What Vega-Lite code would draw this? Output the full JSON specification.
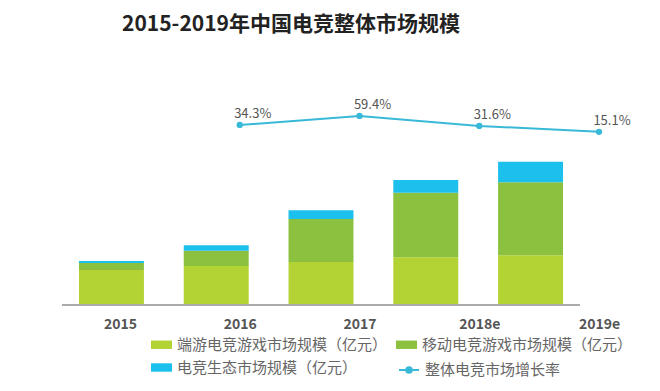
{
  "$schema": "https://vega.github.io/schema/vega-lite/v6.json",
  "width": 518,
  "height": 235,
  "autosize": {"type": "none"},
  "padding": {"left": 62, "top": 70, "right": 80, "bottom": 86},
  "background": "white",
  "title": {
    "text": "2015-2019年中国电竞整体市场规模",
    "font": "Noto Sans CJK SC",
    "fontSize": 21,
    "fontWeight": "bold",
    "color": "#222222",
    "anchor": "middle",
    "dx": -30,
    "offset": 35
  },
  "config": {
    "view": {"stroke": null},
    "font": "Noto Sans CJK SC"
  },
  "datasets": {
    "bars": [
      {"year": "2015", "series": "端游电竞游戏市场规模（亿元）", "value": 296},
      {"year": "2015", "series": "移动电竞游戏市场规模（亿元）", "value": 59},
      {"year": "2015", "series": "电竞生态市场规模（亿元）", "value": 17},
      {"year": "2016", "series": "端游电竞游戏市场规模（亿元）", "value": 330},
      {"year": "2016", "series": "移动电竞游戏市场规模（亿元）", "value": 129},
      {"year": "2016", "series": "电竞生态市场规模（亿元）", "value": 46},
      {"year": "2017", "series": "端游电竞游戏市场规模（亿元）", "value": 363},
      {"year": "2017", "series": "移动电竞游戏市场规模（亿元）", "value": 363},
      {"year": "2017", "series": "电竞生态市场规模（亿元）", "value": 74},
      {"year": "2018e", "series": "端游电竞游戏市场规模（亿元）", "value": 403},
      {"year": "2018e", "series": "移动电竞游戏市场规模（亿元）", "value": 546},
      {"year": "2018e", "series": "电竞生态市场规模（亿元）", "value": 107},
      {"year": "2019e", "series": "端游电竞游戏市场规模（亿元）", "value": 420},
      {"year": "2019e", "series": "移动电竞游戏市场规模（亿元）", "value": 617},
      {"year": "2019e", "series": "电竞生态市场规模（亿元）", "value": 174}
    ],
    "growth": [
      {"year": "2016", "rate": 34.3, "label": "34.3%"},
      {"year": "2017", "rate": 59.4, "label": "59.4%"},
      {"year": "2018e", "rate": 31.6, "label": "31.6%"},
      {"year": "2019e", "rate": 15.1, "label": "15.1%"}
    ]
  },
  "layer": [
    {
      "data": {"name": "bars"},
      "layer": [
        {
          "mark": {"type": "bar"},
          "encoding": {
            "x": {
              "field": "year",
              "type": "nominal",
              "scale": {"domain": ["2015", "2016", "2017", "2018e", "2019e"], "paddingInner": 0.38, "paddingOuter": 0.162},
              "axis": null
            },
            "y": {
              "field": "value",
              "type": "quantitative",
              "stack": "zero",
              "scale": {"domain": [0, 1986], "nice": false},
              "axis": null
            },
            "color": {
              "field": "series",
              "type": "nominal",
              "scale": {
                "domain": ["端游电竞游戏市场规模（亿元）", "移动电竞游戏市场规模（亿元）", "电竞生态市场规模（亿元）"],
                "range": ["#b3d234", "#8cc13f", "#1cc0ec"]
              },
              "legend": {
                "orient": "none",
                "legendX": 89,
                "legendY": 264,
                "direction": "horizontal",
                "columns": 2,
                "title": null,
                "padding": 0,
                "columnPadding": 8,
                "rowPadding": 4,
                "symbolType": "M-1,-0.4H1V0.4H-1Z",
                "symbolSize": 441,
                "symbolStrokeWidth": 0,
                "labelFont": "Noto Sans CJK SC",
                "labelFontSize": 15,
                "labelColor": "#666666",
                "labelOffset": 5,
                "labelLimit": 400
              }
            },
            "order": {"field": "series", "sort": "descending"}
          }
        },
        {
          "mark": {"type": "rule", "color": "#aaaaaa", "strokeWidth": 1},
          "encoding": {
            "y": {"datum": 0, "type": "quantitative", "scale": {"domain": [0, 1986], "nice": false}, "axis": null}
          }
        }
      ]
    },
    {
      "data": {"name": "growth"},
      "encoding": {
        "x": {
          "field": "year",
          "type": "ordinal",
          "scale": {"type": "point", "domain": ["2015", "2016", "2017", "2018e", "2019e"], "range": [58, 537], "padding": 0},
          "axis": {
            "orient": "bottom",
            "title": null,
            "domain": false,
            "ticks": false,
            "labelPadding": 12,
            "labelAngle": 0,
            "labelFont": "Noto Sans CJK SC",
            "labelFontSize": 14,
            "labelFontWeight": "bold",
            "labelColor": "#555555",
            "grid": false
          }
        },
        "y": {
          "field": "rate",
          "type": "quantitative",
          "scale": {"domain": [-466, 187], "nice": false, "zero": false},
          "axis": null
        }
      },
      "layer": [
        {
          "mark": {"type": "line", "strokeWidth": 2},
          "encoding": {
            "stroke": {
              "datum": "整体电竞市场增长率",
              "type": "nominal",
              "scale": {"range": ["#38b9d8"]},
              "legend": {
                "orient": "none",
                "legendX": 336,
                "legendY": 289,
                "title": null,
                "padding": 0,
                "symbolType": "M-1,0H1M-0.28,0A0.28,0.28 0 1,0 0.28,0A0.28,0.28 0 1,0 -0.28,0Z",
                "symbolSize": 400,
                "symbolStrokeWidth": 2,
                "symbolStrokeColor": "#38b9d8",
                "symbolFillColor": "#38b9d8",
                "labelFont": "Noto Sans CJK SC",
                "labelFontSize": 15,
                "labelColor": "#666666",
                "labelOffset": 5,
                "labelLimit": 400
              }
            }
          }
        },
        {
          "mark": {"type": "point", "filled": true, "size": 40, "color": "#38b9d8", "opacity": 1}
        },
        {
          "mark": {"type": "text", "dx": 13, "dy": -11, "fontSize": 13, "color": "#555555", "font": "Noto Sans CJK SC"},
          "encoding": {"text": {"field": "label"}}
        }
      ]
    }
  ],
  "resolve": {"scale": {"x": "independent", "y": "independent"}}
}
